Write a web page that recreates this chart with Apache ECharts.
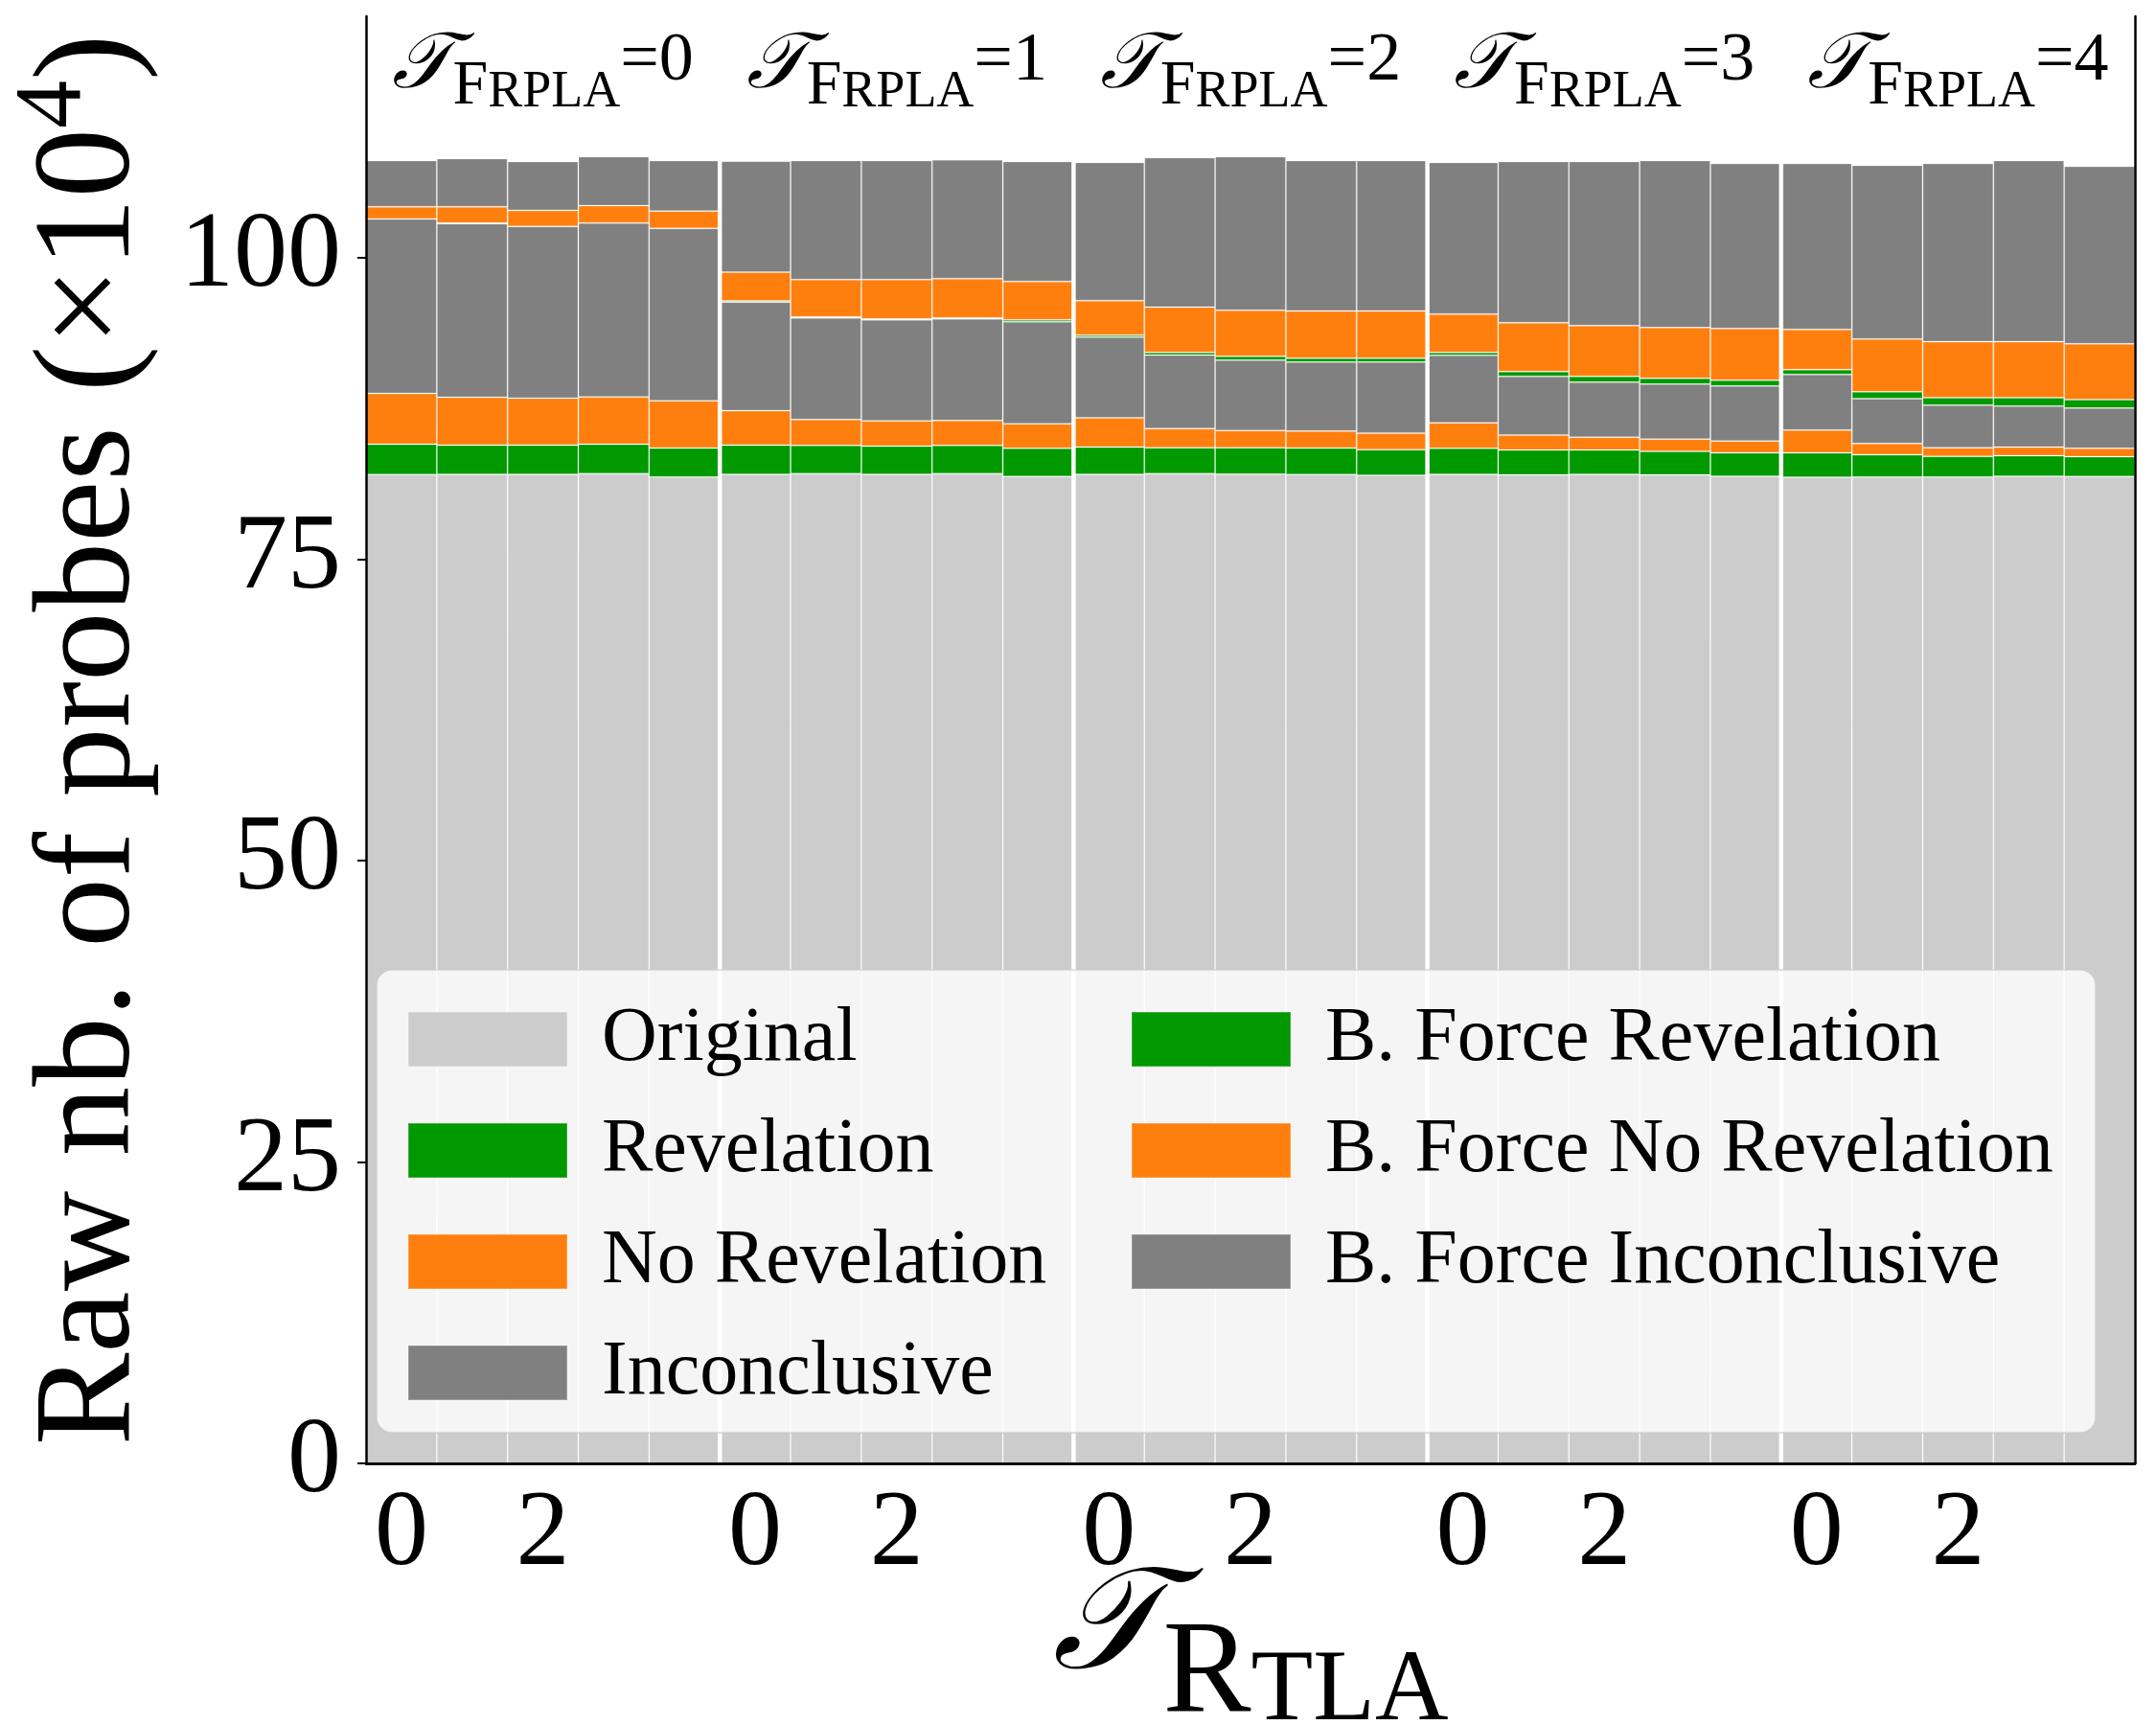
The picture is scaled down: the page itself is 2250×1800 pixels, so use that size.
<!DOCTYPE html>
<html>
<head>
<meta charset="utf-8">
<script src="https://cdn.jsdelivr.net/npm/echarts@6/dist/echarts.min.js"></script>
<style>
  html, body { margin: 0; padding: 0; background: #fff; }
  #chart { width: 2250px; height: 1800px; }
</style>
</head>
<body>
<div id="chart"></div>
<script>
// groups (tau FRPLA) and bars inside a group (tau RTLA)
const frplaValues = [0, 1, 2, 3, 4];
const rtlaValues = [0, 1, 2, 3, 4];
const rtlaShown = [0, 2];
const yTicks = [0, 25, 50, 75, 100];

// raw nb. of probes (x10^4), 25 bars, group after group
const original = [82.00, 82.02, 82.02, 82.07, 81.80, 82.02, 82.07, 82.02, 82.07, 81.84, 82.02, 82.07, 82.04, 82.00, 81.93, 82.02, 81.97, 82.02, 81.97, 81.86, 81.78, 81.80, 81.80, 81.86, 81.83];
const revelation = [2.51, 2.41, 2.41, 2.44, 2.39, 2.41, 2.34, 2.33, 2.34, 2.33, 2.25, 2.15, 2.18, 2.19, 2.13, 2.15, 2.06, 2.01, 1.96, 1.94, 2.02, 1.84, 1.71, 1.70, 1.65];
const noRevelation = [4.22, 3.98, 3.90, 3.93, 3.93, 2.87, 2.15, 2.10, 2.07, 2.04, 2.44, 1.59, 1.43, 1.41, 1.38, 2.12, 1.25, 1.07, 1.01, 0.98, 1.88, 0.93, 0.71, 0.71, 0.69];
const inconclusive = [14.47, 14.39, 14.24, 14.42, 14.29, 9.00, 8.43, 8.38, 8.42, 8.46, 6.69, 6.10, 5.84, 5.73, 5.89, 5.60, 4.86, 4.56, 4.56, 4.56, 4.62, 3.73, 3.53, 3.40, 3.34];
const bfRevelation = [0, 0.06, 0, 0, 0, 0.10, 0.08, 0.07, 0.09, 0.16, 0.16, 0.22, 0.31, 0.31, 0.31, 0.24, 0.40, 0.48, 0.48, 0.48, 0.40, 0.56, 0.63, 0.71, 0.71];
const bfNoRevelation = [1.00, 1.34, 1.33, 1.44, 1.44, 2.38, 3.10, 3.27, 3.26, 3.18, 2.86, 3.76, 3.82, 3.93, 3.93, 3.18, 4.05, 4.21, 4.21, 4.29, 3.33, 4.38, 4.64, 4.64, 4.62];
const bfInconclusive = [3.83, 4.00, 4.06, 4.06, 4.18, 9.21, 9.86, 9.86, 9.85, 9.95, 11.46, 12.39, 12.74, 12.46, 12.46, 12.57, 13.37, 13.61, 13.84, 13.69, 13.77, 14.40, 14.78, 15.01, 14.72];

const FONT = 'Liberation Serif';
const n = rtlaValues.length;

const categories = [];
frplaValues.forEach(function (f) {
  rtlaValues.forEach(function (r) { categories.push(f + '|' + r); });
});
// white separators after the last bar of each group, titles over group middle
const groupEnds = frplaValues.slice(0, -1).map(function (f, i) { return i * n + n - 1; });
const groupMids = frplaValues.map(function (f, i) { return [i * n + (n - 1) / 2, f]; });

const layers = [
  ['Original', original, '#cccccc'],
  ['Revelation', revelation, '#009900'],
  ['No Revelation', noRevelation, '#ff7f0e'],
  ['Inconclusive', inconclusive, '#808080'],
  ['B. Force Revelation', bfRevelation, '#009900'],
  ['B. Force No Revelation', bfNoRevelation, '#ff7f0e'],
  ['B. Force Inconclusive', bfInconclusive, '#808080']
];

const series = layers.map(function (l) {
  return {
    name: l[0], type: 'bar', stack: 'all', data: l[1],
    barCategoryGap: '0%',
    itemStyle: { color: l[2], borderColor: 'rgba(255,255,255,0.22)', borderWidth: 1 },
    emphasis: { disabled: true }
  };
});

series.push({
  type: 'custom', z: 3, silent: true,
  data: groupEnds.map(function (i) { return [i]; }),
  encode: { x: 0 },
  renderItem: function (params, api) {
    const p0 = api.coord([api.value(0), 0]);
    const p1 = api.coord([api.value(0), 118]);
    const w = api.size([1, 0])[0];
    return {
      type: 'line',
      shape: { x1: p0[0] + w / 2, y1: p0[1], x2: p0[0] + w / 2, y2: p1[1] },
      style: { stroke: '#ffffff', lineWidth: 4.5 }
    };
  }
});

series.push({
  type: 'custom', z: 3, silent: true,
  data: groupMids,
  encode: { x: 0, y: 1 },
  renderItem: function (params, api) {
    const p = api.coord([api.value(0), 115.3]);
    return {
      type: 'text',
      style: {
        x: p[0], y: p[1], align: 'center', verticalAlign: 'middle',
        text: '{t|\uD835\uDCAF}{f|F}{s|RPLA}{e|=' + api.value(1) + '}',
        rich: {
          t: { fontFamily: FONT, fontSize: 82, fontStyle: 'italic', verticalAlign: 'top', fill: '#000' },
          f: { fontFamily: FONT, fontSize: 66, verticalAlign: 'bottom', padding: [30, 0, 0, 0], fill: '#000' },
          s: { fontFamily: FONT, fontSize: 54, verticalAlign: 'bottom', fill: '#000' },
          e: { fontFamily: FONT, fontSize: 72, verticalAlign: 'top', fill: '#000' }
        }
      }
    };
  }
});

const chart = echarts.init(document.getElementById('chart'), null, { renderer: 'canvas' });

chart.setOption({
  animation: false,
  backgroundColor: '#ffffff',
  textStyle: { fontFamily: FONT },
  grid: { left: 382, right: 22, top: 17, bottom: 273, containLabel: false, outerBoundsMode: 'none' },
  xAxis: [{
    type: 'category', data: categories, z: 10,
    axisLine: { lineStyle: { color: '#000', width: 2.5 } },
    axisTick: { alignWithLabel: true, interval: 0, length: 10, lineStyle: { color: '#000', width: 2 } },
    axisLabel: {
      interval: 0, margin: 20, color: '#000', fontFamily: FONT, fontSize: 112,
      formatter: function (v) {
        const r = Number(v.split('|')[1]);
        return rtlaShown.indexOf(r) >= 0 ? String(r) : '';
      }
    },
    name: '{t|\uD835\uDCAF}{r|R}{s|TLA}',
    nameLocation: 'middle', nameGap: 99, nameMoveOverlap: false,
    nameTextStyle: {
      color: '#000',
      rich: {
        t: { fontFamily: FONT, fontSize: 150, fontStyle: 'italic', verticalAlign: 'top' },
        r: { fontFamily: FONT, fontSize: 138, verticalAlign: 'bottom', padding: [55, 0, 0, 0] },
        s: { fontFamily: FONT, fontSize: 106, verticalAlign: 'bottom' }
      }
    }
  }, {
    type: 'category', data: categories, position: 'top', z: 10,
    axisLine: { lineStyle: { color: '#000', width: 2.5 } },
    axisTick: { show: false }, axisLabel: { show: false }
  }],
  yAxis: [{
    type: 'value', min: 0, max: 120, z: 10,
    axisLine: { show: true, lineStyle: { color: '#000', width: 2.5 } },
    axisTick: { show: true, customValues: yTicks, length: 9, lineStyle: { color: '#000', width: 2 } },
    axisLabel: { customValues: yTicks, margin: 26, color: '#000', fontFamily: FONT, fontSize: 112 },
    splitLine: { show: false },
    name: '{m|Raw nb. of probes (\u00D710}{p|4}{m|)}',
    nameLocation: 'middle', nameRotate: 90, nameGap: 214, nameMoveOverlap: false,
    nameTextStyle: {
      color: '#000',
      rich: {
        m: { fontFamily: FONT, fontSize: 145, verticalAlign: 'bottom', padding: [16, 0, 0, 0] },
        p: { fontFamily: FONT, fontSize: 100, verticalAlign: 'top' }
      }
    }
  }, {
    type: 'value', min: 0, max: 120, position: 'right', z: 10,
    axisLine: { show: true, lineStyle: { color: '#000', width: 2.5 } },
    axisTick: { show: false }, axisLabel: { show: false }, splitLine: { show: false }
  }],
  graphic: [{
    type: 'rect', z: 50, silent: true,
    shape: { x: 393, y: 1012, width: 1794, height: 483, r: 16 },
    style: { fill: 'rgba(255,255,255,0.8)', stroke: 'rgba(204,204,204,0.8)', lineWidth: 1.5 }
  }],
  legend: [{
    z: 60, left: 425, top: 1044.5, orient: 'vertical', padding: 0,
    itemWidth: 166, itemHeight: 57, itemGap: 36, icon: 'rect', selectedMode: false,
    textStyle: { fontFamily: FONT, fontSize: 80, color: '#000', lineHeight: 57, padding: [0, 0, 0, 31] },
    data: layers.slice(0, 4).map(function (l) { return l[0]; })
  }, {
    z: 60, left: 1180, top: 1044.5, orient: 'vertical', padding: 0,
    itemWidth: 166, itemHeight: 57, itemGap: 36, icon: 'rect', selectedMode: false,
    textStyle: { fontFamily: FONT, fontSize: 80, color: '#000', lineHeight: 57, padding: [0, 0, 0, 31] },
    data: layers.slice(4).map(function (l) { return l[0]; })
  }],
  series: series
});
</script>
</body>
</html>
